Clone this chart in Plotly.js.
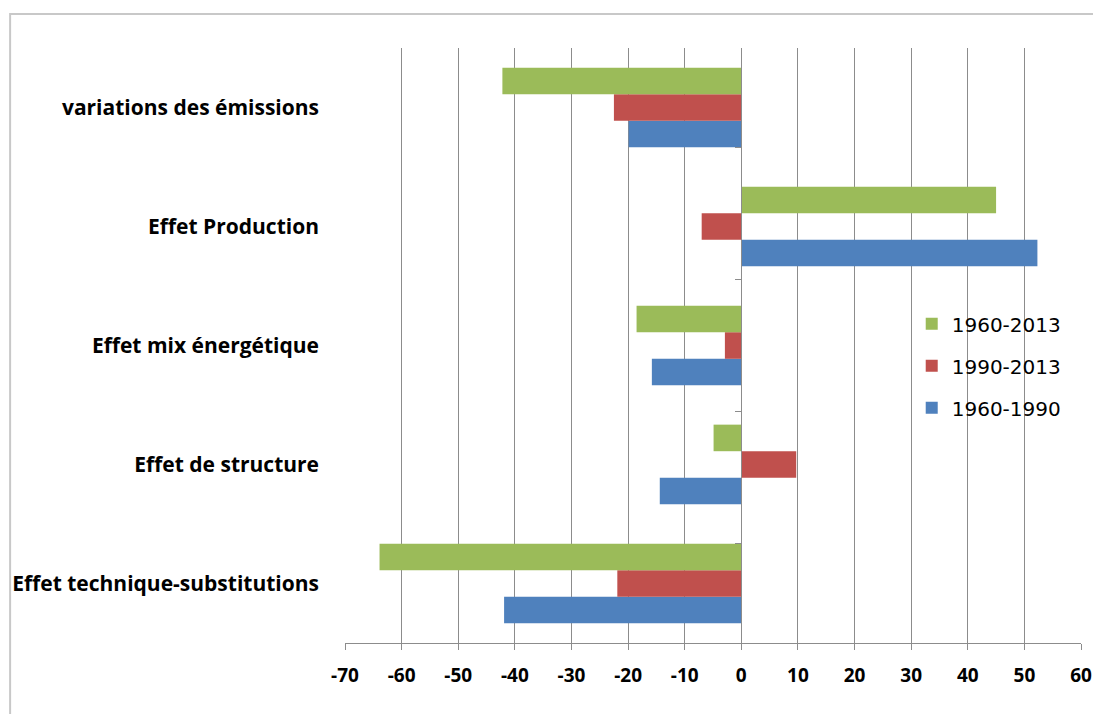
<!DOCTYPE html>
<html>
<head>
<meta charset="utf-8">
<script src="https://cdn.plot.ly/plotly-3.0.1.min.js"></script>
<style>html,body{margin:0;padding:0;background:#fff;}#chart{width:1093px;height:714px;}</style>
</head>
<body>
<div id="chart"></div>
<script>
// Categories listed bottom to top
const categories = ["Effet technique-substitutions", "Effet de structure", "Effet mix énergétique", "Effet Production", "variations des émissions"];
const seriesNames = ["1960-1990", "1990-2013", "1960-2013"];
const values_1960_1990 = [-41.9, -14.4, -15.8, 52.3, -19.9];
const values_1990_2013 = [-21.9, 9.7, -2.9, -7.0, -22.5];
const values_1960_2013 = [-63.9, -4.9, -18.5, 45.0, -42.2];
const xTicks = [-70, -60, -50, -40, -30, -20, -10, 0, 10, 20, 30, 40, 50, 60];

const colors = ["#4F81BD", "#C0504D", "#9BBB59"];
const allValues = [values_1960_1990, values_1990_2013, values_1960_2013];

const traces = allValues.map((v, i) => ({
  type: "bar",
  orientation: "h",
  name: seriesNames[i],
  x: v,
  y: categories,
  legendgroup: "g" + i,
  legendrank: 10 * (allValues.length - i),
  marker: {color: colors[i], line: {width: 0}},
  hoverinfo: "x+name"
}));

// invisible helper trace so the axis at zero shows its boundary ticks
traces.push({
  type: "scatter",
  mode: "markers",
  x: categories.map(() => 0),
  y: categories,
  yaxis: "y2",
  marker: {opacity: 0},
  showlegend: false,
  hoverinfo: "skip"
});

const xmin = xTicks[0], xmax = xTicks[xTicks.length - 1];

const layout = {
  width: 1093,
  height: 714,
  margin: {l: 345, r: 12, t: 48, b: 71},
  paper_bgcolor: "#ffffff",
  plot_bgcolor: "#ffffff",
  barmode: "group",
  bargap: 0.33,
  bargroupgap: 0,
  showlegend: true,
  legend: {
    traceorder: "grouped",
    x: 0.77, xanchor: "left",
    y: 0.466, yanchor: "middle",
    bgcolor: "rgba(0,0,0,0)",
    font: {family: "DejaVu Sans", size: 20, color: "#000"},
    tracegroupgap: 13,
    itemwidth: 30
  },
  xaxis: {
    range: [xmin, xmax],
    tickvals: xTicks,
    ticktext: xTicks.map(String),
    showgrid: true,
    gridcolor: "#8c8c8c",
    gridwidth: 1,
    zeroline: false,
    showline: true,
    linecolor: "#8c8c8c",
    linewidth: 1,
    ticks: "outside",
    ticklen: 6,
    tickcolor: "#8c8c8c",
    tickfont: {family: "Open Sans", size: 19, color: "#000", weight: "bold"},
    ticklabelstandoff: 9,
    fixedrange: true
  },
  yaxis: {
    type: "category",
    categoryorder: "array",
    categoryarray: categories,
    showgrid: false,
    zeroline: false,
    showline: false,
    ticks: "",
    tickfont: {family: "Open Sans", size: 21, color: "#000", weight: "bold"},
    ticklabelstandoff: 25,
    fixedrange: true
  },
  yaxis2: {
    type: "category",
    categoryorder: "array",
    categoryarray: categories,
    overlaying: "y",
    anchor: "free",
    position: (0 - xmin) / (xmax - xmin),
    side: "left",
    showgrid: false,
    zeroline: false,
    showline: true,
    linecolor: "#8c8c8c",
    linewidth: 1,
    ticks: "outside",
    tickson: "boundaries",
    ticklen: 6,
    tickcolor: "#8c8c8c",
    showticklabels: false,
    fixedrange: true
  },
  shapes: [{
    type: "rect",
    xref: "paper", yref: "paper",
    x0: -0.455, x1: 1.2,
    y0: -0.3, y1: 1.057,
    line: {color: "#c8c8c8", width: 2},
    fillcolor: "rgba(0,0,0,0)",
    layer: "below"
  }]
};

Plotly.newPlot("chart", traces, layout, {displayModeBar: false, staticPlot: true});
</script>
</body>
</html>
